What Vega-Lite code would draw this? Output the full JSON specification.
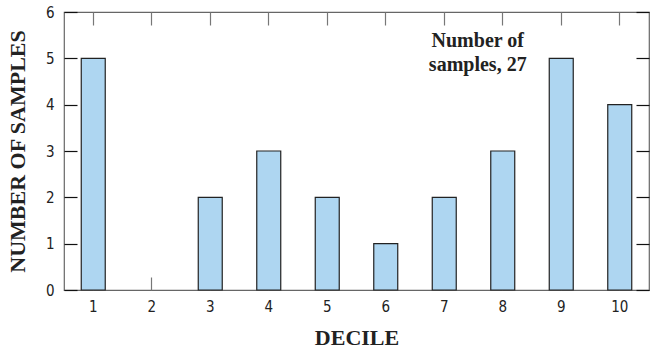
{
  "$schema": "https://vega.github.io/schema/vega-lite/v6.json",
  "width": 585,
  "height": 278,
  "autosize": {"type": "none"},
  "padding": {"left": 64, "top": 12, "right": 1, "bottom": 63},
  "background": "white",
  "config": {
    "view": {"stroke": "#666", "strokeWidth": 1.2},
    "axis": {
      "labelFont": "'DejaVu Sans Condensed', 'Liberation Sans Narrow', Roboto, sans-serif",
      "labelFontSize": 15,
      "labelColor": "#222",
      "titleFont": "Liberation Serif",
      "titleFontSize": 22,
      "titleFontWeight": "bold",
      "titleColor": "#222",
      "domain": false,
      "grid": false
    }
  },
  "datasets": {
    "deciles": [
      {"decile": "1", "count": 5},
      {"decile": "2", "count": 0},
      {"decile": "3", "count": 2},
      {"decile": "4", "count": 3},
      {"decile": "5", "count": 2},
      {"decile": "6", "count": 1},
      {"decile": "7", "count": 2},
      {"decile": "8", "count": 3},
      {"decile": "9", "count": 5},
      {"decile": "10", "count": 4}
    ],
    "note": [
      {"decile": "8", "count": 5.37, "label": ["Number of", "samples, 27"]}
    ]
  },
  "layer": [
    {
      "data": {"name": "deciles"},
      "mark": {"type": "bar", "fill": "#aed6f1", "stroke": "#222", "strokeWidth": 1.2},
      "encoding": {
        "x": {
          "field": "decile", "type": "ordinal", "sort": null,
          "scale": {"paddingInner": 0.59, "paddingOuter": 0.295},
          "axis": {
            "orient": "bottom", "title": "DECILE", "labelAngle": 0,
            "tickSize": -13, "tickColor": "#777", "tickWidth": 1.2,
            "labelPadding": 22, "titlePadding": 13
          }
        },
        "y": {
          "field": "count", "type": "quantitative",
          "scale": {"domain": [0, 6], "nice": false},
          "axis": {
            "orient": "left", "title": "NUMBER OF SAMPLES",
            "values": [0, 1, 2, 3, 4, 5, 6],
            "tickSize": -13, "tickColor": "#111", "tickWidth": 1.2,
            "labelPadding": 23, "titlePadding": 16
          }
        },
        "strokeOpacity": {
          "condition": {"test": "datum.count === 0", "value": 0},
          "value": 1
        }
      }
    },
    {
      "data": {"name": "deciles"},
      "mark": {"type": "bar", "opacity": 0},
      "encoding": {
        "x": {
          "field": "decile", "type": "ordinal", "sort": null,
          "axis": {
            "orient": "top", "title": null, "labels": false,
            "tickSize": -13, "tickColor": "#777", "tickWidth": 1.2
          }
        },
        "y": {
          "field": "count", "type": "quantitative",
          "axis": {
            "orient": "right", "title": null, "labels": false,
            "values": [0, 1, 2, 3, 4, 5, 6],
            "tickSize": -13, "tickColor": "#111", "tickWidth": 1.2
          }
        }
      }
    },
    {
      "data": {"name": "note"},
      "mark": {
        "type": "text", "font": "Liberation Serif", "fontSize": 20,
        "fontWeight": "bold", "color": "#222", "align": "center",
        "baseline": "middle", "lineHeight": 24, "dx": -25
      },
      "encoding": {
        "x": {"field": "decile", "type": "ordinal", "sort": null, "axis": null},
        "y": {"field": "count", "type": "quantitative", "axis": null},
        "text": {"field": "label"}
      }
    }
  ],
  "resolve": {"axis": {"x": "independent", "y": "independent"}}
}
